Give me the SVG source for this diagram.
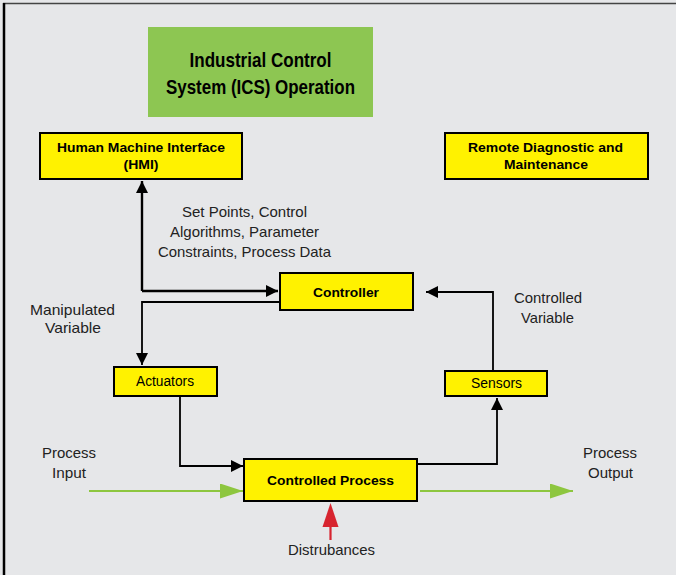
<svg xmlns="http://www.w3.org/2000/svg" width="676" height="575" viewBox="0 0 676 575">
<defs>
<style>
.bg{fill:#e6e7e9}
.box{fill:#fff200;stroke:#000;stroke-width:2}
.title{font-family:"Liberation Sans",Arial,sans-serif;font-weight:bold;font-size:21px;fill:#000;text-anchor:middle}
.bt{font-family:"Liberation Sans",Arial,sans-serif;font-weight:bold;font-size:13.2px;fill:#000;text-anchor:middle}
.nt{font-family:"Liberation Sans",Arial,sans-serif;font-size:14px;fill:#000;text-anchor:middle}
.lbl{font-family:"Liberation Sans",Arial,sans-serif;font-size:14.5px;fill:#222;text-anchor:middle}
.wire{fill:none;stroke:#000;stroke-width:1.8}
.green{fill:none;stroke:#8dc63f;stroke-width:2.2}
</style>
<marker id="ahL" viewBox="0 0 12 12" refX="12" refY="6" markerWidth="12" markerHeight="12" markerUnits="userSpaceOnUse" orient="auto"><path d="M0,0 L12,6 L0,12 z" fill="#000"/></marker>
<marker id="ag" viewBox="0 0 23 15" refX="23" refY="7.5" markerWidth="23" markerHeight="15" markerUnits="userSpaceOnUse" orient="auto"><path d="M0,0 L23,7.5 L0,15 z" fill="#8dc63f"/></marker>
</defs>
<rect class="bg" x="0" y="0" width="676" height="575"/>
<line x1="3" y1="3.5" x2="676" y2="3.5" stroke="#444" stroke-width="1.5"/>
<line x1="4" y1="3" x2="4" y2="575" stroke="#000" stroke-width="2.5"/>

<g id="title">
<rect x="148" y="27" width="225" height="90" fill="#8dc652"/>
<text class="title" x="260.5" y="67" textLength="142" lengthAdjust="spacingAndGlyphs">Industrial Control</text>
<text class="title" x="260.5" y="94" textLength="189" lengthAdjust="spacingAndGlyphs">System (ICS) Operation</text>
</g>

<g id="connectors">
<polyline class="wire" style="stroke-width:2.4" points="142,291 142,181" marker-end="url(#ahL)"/>
<polyline class="wire" style="stroke-width:2.4" points="142,291 278,291" marker-end="url(#ahL)"/>
<polyline class="wire" points="280,302 142,302 142,365" marker-end="url(#ahL)"/>
<polyline class="wire" points="180,397 180,466 243,466" marker-end="url(#ahL)"/>
<polyline class="wire" points="418,464 497,464 497,398" marker-end="url(#ahL)"/>
<polyline class="wire" points="493,370 493,292 426,292" marker-end="url(#ahL)"/>
<line class="green" x1="89" y1="491" x2="243" y2="491" marker-end="url(#ag)"/>
<line class="green" x1="420" y1="491" x2="573" y2="491" marker-end="url(#ag)"/>
<line x1="330.5" y1="540" x2="330.5" y2="520" stroke="#d7242f" stroke-width="2.2"/>
<path d="M330.5,503 L338.5,527 L322.5,527 z" fill="#d7242f"/>
</g>

<g id="hmi">
<rect class="box" x="40" y="133" width="202" height="46"/>
<text class="bt" x="141" y="152" textLength="168" lengthAdjust="spacingAndGlyphs">Human Machine Interface</text>
<text class="bt" x="141" y="169" textLength="35" lengthAdjust="spacingAndGlyphs">(HMI)</text>
</g>

<g id="remote">
<rect class="box" x="445" y="133" width="203" height="46"/>
<text class="bt" x="545.5" y="152" textLength="155" lengthAdjust="spacingAndGlyphs">Remote Diagnostic and</text>
<text class="bt" x="546" y="169" textLength="84" lengthAdjust="spacingAndGlyphs">Maintenance</text>
</g>

<g id="controller">
<rect class="box" x="280" y="273" width="133" height="37"/>
<text class="bt" x="346" y="297" textLength="66" lengthAdjust="spacingAndGlyphs">Controller</text>
</g>

<g id="actuators">
<rect class="box" x="114" y="367" width="103" height="29"/>
<text class="nt" x="165" y="386" textLength="58" lengthAdjust="spacingAndGlyphs">Actuators</text>
</g>

<g id="sensors">
<rect class="box" x="445" y="371" width="102" height="25"/>
<text class="nt" x="496.5" y="388" textLength="51" lengthAdjust="spacingAndGlyphs">Sensors</text>
</g>

<g id="process">
<rect class="box" x="244" y="459" width="173" height="42"/>
<text class="bt" x="330.5" y="485" textLength="127" lengthAdjust="spacingAndGlyphs">Controlled Process</text>
</g>

<g id="labels">
<text class="lbl" x="244.5" y="217" textLength="125" lengthAdjust="spacingAndGlyphs">Set Points, Control</text>
<text class="lbl" x="244.5" y="237" textLength="149" lengthAdjust="spacingAndGlyphs">Algorithms, Parameter</text>
<text class="lbl" x="244.5" y="257" textLength="173" lengthAdjust="spacingAndGlyphs">Constraints, Process Data</text>
<text class="lbl" x="72.5" y="315" textLength="85" lengthAdjust="spacingAndGlyphs">Manipulated</text>
<text class="lbl" x="73" y="333" textLength="56" lengthAdjust="spacingAndGlyphs">Variable</text>
<text class="lbl" x="548" y="303" textLength="68" lengthAdjust="spacingAndGlyphs">Controlled</text>
<text class="lbl" x="547.5" y="323" textLength="53" lengthAdjust="spacingAndGlyphs">Variable</text>
<text class="lbl" x="69" y="458" textLength="54" lengthAdjust="spacingAndGlyphs">Process</text>
<text class="lbl" x="69" y="478" textLength="34" lengthAdjust="spacingAndGlyphs">Input</text>
<text class="lbl" x="610" y="458" textLength="54" lengthAdjust="spacingAndGlyphs">Process</text>
<text class="lbl" x="610.5" y="478" textLength="45" lengthAdjust="spacingAndGlyphs">Output</text>
<text class="lbl" x="331.5" y="555" textLength="87" lengthAdjust="spacingAndGlyphs">Distrubances</text>
</g>
</svg>
